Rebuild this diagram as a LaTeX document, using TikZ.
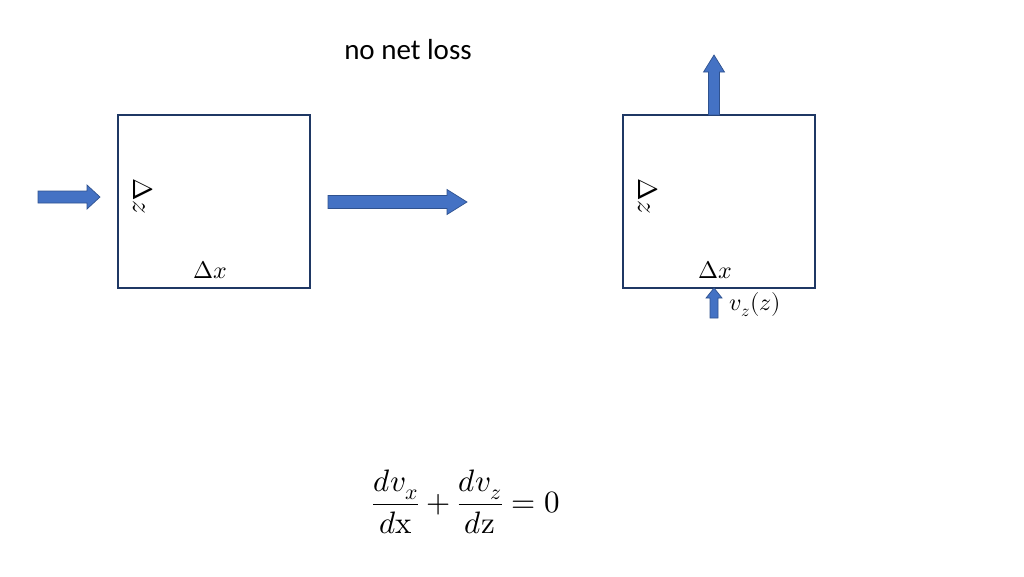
\documentclass[tikz,border=0pt]{standalone}
\usepackage{amsmath}
\usepackage{unicode-math}
\setmainfont{Carlito}
\setmathfont{Latin Modern Math}
\definecolor{boxblue}{HTML}{1F3864}
\definecolor{arrowfill}{HTML}{4472C4}
\definecolor{arrowline}{HTML}{2F528F}
\tikzset{
  cell/.style={draw=boxblue, line width=2.6pt},
  blockarrow/.style={draw=arrowline, fill=arrowfill, line width=0.7pt, line join=miter},
  lbl/.style={font=\fontsize{24}{28}\selectfont}
}
% horizontal block arrow: start x, centre y, head start x, tip x, half shaft, half head
\newcommand{\harrow}[6]{\draw[blockarrow] (#1,#2-#5) -- (#3,#2-#5) -- (#3,#2-#6) -- (#4,#2)
  -- (#3,#2+#6) -- (#3,#2+#5) -- (#1,#2+#5) -- cycle;}
% vertical block arrow: centre x, start y, head start y, tip y, half shaft, half head
\newcommand{\varrow}[6]{\draw[blockarrow] (#1-#5,#2) -- (#1-#5,#3) -- (#1-#6,#3) -- (#1,#4)
  -- (#1+#6,#3) -- (#1+#5,#3) -- (#1+#5,#2) -- cycle;}
\begin{document}
\begin{tikzpicture}[x=1pt, y=-1pt]
  \useasboundingbox (0,0) rectangle (1024,576);
  \node[font=\fontsize{29}{34}\selectfont] (title) at (408,50) {no net loss};

  % left cell
  \draw[cell] (118,115) rectangle (310,288);
  \node[lbl, rotate=-90, font=\fontsize{27}{30}\selectfont] (dzl) at (143,196) {$\Delta z$};
  \node[lbl] (dxl) at (210,270) {$\Delta x$};
  \harrow{38}{197}{87}{100}{6}{12}
  \harrow{328}{202}{447}{467}{6.5}{12.5}

  % right cell
  \draw[cell] (623,115) rectangle (815,288);
  \node[lbl, rotate=-90, font=\fontsize{27}{30}\selectfont] (dzr) at (648,196) {$\Delta z$};
  \node[lbl] (dxr) at (715,270) {$\Delta x$};
  \varrow{714}{115}{72}{55}{5.5}{10.5}
  \varrow{714}{318}{298}{288}{4}{8}
  \node[lbl, anchor=west] (vz) at (726,305) {$v_z(z)$};

  % continuity
  \node[font=\fontsize{31}{36}\selectfont] (eq) at (466,502)
    {$\dfrac{dv_x}{d\symup{x}}+\dfrac{dv_z}{d\symup{z}}=0$};
\end{tikzpicture}
\end{document}
